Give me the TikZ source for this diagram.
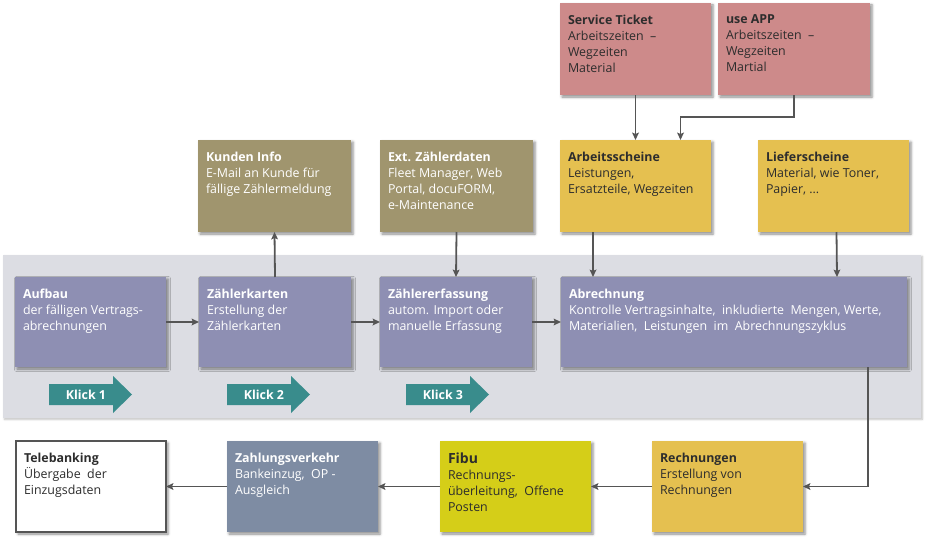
\documentclass[tikz,border=0pt]{standalone}
\usepackage{fontspec}
\setmainfont{Open Sans}
\usetikzlibrary{arrows.meta,calc,shadows.blur}
\newcommand\pxu{0.75pt}
\definecolor{redc}{RGB}{205,138,138}
\definecolor{olivec}{RGB}{160,149,110}
\definecolor{yelc}{RGB}{229,192,80}
\definecolor{purc}{RGB}{142,143,179}
\definecolor{klickc}{RGB}{57,140,140}
\definecolor{fibuc}{RGB}{213,206,24}
\definecolor{zvc}{RGB}{126,140,163}
\definecolor{bandc}{RGB}{220,221,227}
\definecolor{arrc}{RGB}{85,85,85}
\definecolor{darktxt}{RGB}{45,45,45}
\newcommand\mybox[7]{%
  \node[#6, anchor=north west, minimum width={(#4-#2)*\pxu}, minimum height={(#5-#3)*\pxu}] (#1) at (#2,#3) {};
  \node[txt, anchor=north west] (#1-t) at ($(#1.north west)+(8,12)$) {#7};
}
\newcommand\klick[3]{%
  \fill[klickc] (#2,384) -- (#2+64,384) -- (#2+64,376) -- (#2+83,394.5) -- (#2+64,413) -- (#2+64,405) -- (#2,405) -- cycle;
  \node[klicktxt] (#1) at (#2+37,395) {#3};
}
\begin{document}
\begin{tikzpicture}[x=0.75pt, y=-0.75pt,
  shd/.style={blur shadow={shadow xshift=1.5pt, shadow yshift=-1.5pt, shadow blur radius=2pt, shadow opacity=45}},
  boxbase/.style={rectangle, inner sep=0pt, outer sep=0pt, shd},
  redbox/.style={boxbase, fill=redc, text=darktxt},
  olivebox/.style={boxbase, fill=olivec},
  yelbox/.style={boxbase, fill=yelc},
  purbox/.style={boxbase, fill=purc},
  fibubox/.style={boxbase, fill=fibuc},
  zvbox/.style={boxbase, fill=zvc},
  whitebox/.style={boxbase, fill=white, draw=arrc, line width=0.8pt},
  txt/.style={inner sep=0pt, outer sep=0pt, align=left, text=darktxt, font=\fontsize{9.3pt}{12pt}\selectfont},
  klicktxt/.style={inner sep=0pt, text=white, font=\fontsize{9.3pt}{12pt}\selectfont\bfseries},
  arr/.style={draw=arrc, line width=1.35pt, -{Stealth[length=5.5pt, width=5pt, inset=1pt]}}
]
\useasboundingbox (0,0) rectangle (930,542);
% gray band
\fill[bandc, blur shadow={shadow xshift=1pt, shadow yshift=-1pt, shadow blur radius=1.5pt, shadow opacity=25}] (3,255) rectangle (921,418);

% top red boxes
\mybox{st}{560}{3}{711}{95}{redbox}{\textbf{Service Ticket}\\Arbeitszeiten\ \ –\\Wegzeiten\\Material}
\mybox{app}{718}{3}{870}{95}{redbox}{\textbf{use APP}\\Arbeitszeiten\ \ –\\Wegzeiten\\Martial}

% middle row
\mybox{ki}{198}{140}{351}{232}{olivebox}{\color{white}\textbf{Kunden Info}\\\color{white}E-Mail\ an\ Kunde\ für\\\color{white}fällige\ Zählermeldung}
\mybox{ext}{380}{140}{533}{232}{olivebox}{\color{white}\textbf{Ext. Zählerdaten}\\\color{white}Fleet Manager,\ Web\\\color{white}Portal, docuFORM,\\\color{white}e-Maintenance}
\mybox{as}{560}{140}{711}{232}{yelbox}{\textbf{Arbeitsscheine}\\Leistungen,\\Ersatzteile,\ Wegzeiten}
\mybox{ls}{758}{140}{909}{232}{yelbox}{\textbf{Lieferscheine}\\Material,\ wie Toner,\\Papier,\ ...}

% band row
\mybox{auf}{15}{277}{166}{367}{purbox}{\color{white}\textbf{Aufbau}\\\color{white}der\ fälligen\ Vertrags-\\\color{white}abrechnungen}
\mybox{zk}{199}{277}{351}{367}{purbox}{\color{white}\textbf{Zählerkarten}\\\color{white}Erstellung\ der\\\color{white}Zählerkarten}
\mybox{ze}{380}{277}{532}{367}{purbox}{\color{white}\textbf{Zählererfassung}\\\color{white}autom. Import oder\\\color{white}manuelle\ Erfassung}
\mybox{abr}{561}{277}{907}{367}{purbox}{\color{white}\textbf{Abrechnung}\\\color{white}Kontrolle Vertragsinhalte, \ inkludierte\ \ Mengen, Werte,\\\color{white}Materialien, \ Leistungen\ \ im\ \ Abrechnungszyklus}

\klick{k1}{49}{Klick 1}
\klick{k2}{227}{Klick 2}
\klick{k3}{406}{Klick 3}

% bottom row
\mybox{tb}{16}{441}{166}{532}{whitebox}{\textbf{Telebanking}\\Übergabe\ \ der\\Einzugsdaten}
\mybox{zv}{227}{441}{378}{532}{zvbox}{\color{white}\textbf{Zahlungsverkehr}\\\color{white}Bankeinzug, \ OP -\\\color{white}Ausgleich}
\mybox{fibu}{440}{441}{591}{532}{fibubox}{{\fontsize{10.5pt}{12pt}\selectfont\textbf{Fibu}}\\Rechnungs-\\überleitung, \ Offene\\Posten}
\mybox{rech}{652}{441}{803}{532}{yelbox}{\textbf{Rechnungen}\\Erstellung\ von\\Rechnungen}

% connectors
\draw[arr] (st.south) -- (as.north);
\draw[arr] (app.south) -- ++(0,22) -| ($(as.north)+(45,0)$);
\draw[arr] (zk.north) -- (ki.south);
\draw[arr] (ext.south) -- (ze.north);
\draw[arr] ($(as.south west)+(33,0)$) -- ($(abr.north west)+(32,0)$);
\draw[arr] ($(ls.south)+(3,0)$) -- ($(abr.north west)+(276,0)$);
\draw[arr] (auf.east) -- (zk.west);
\draw[arr] (zk.east) -- (ze.west);
\draw[arr] (ze.east) -- (abr.west);
\draw[arr] ($(abr.south east)+(-39,0)$) |- (rech.east);
\draw[arr] (rech.west) -- (fibu.east);
\draw[arr] (fibu.west) -- (zv.east);
\draw[arr] (zv.west) -- (tb.east);
\end{tikzpicture}
\end{document}
